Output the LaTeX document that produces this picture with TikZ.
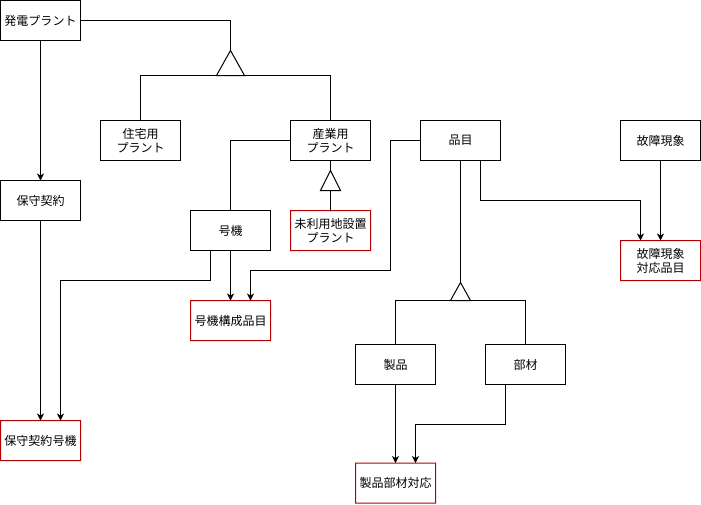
\documentclass[tikz,border=0pt]{standalone}
\usepackage{fontspec}
\setmainfont{Noto Sans CJK JP}
\usetikzlibrary{arrows.meta}
\definecolor{redline}{HTML}{B20000}
\tikzset{
  box/.style={draw=black, line width=1pt, outer sep=0pt, minimum width=80pt, minimum height=40pt, inner sep=0pt, anchor=north west, align=center, font=\fontsize{12}{14}\selectfont},
  redbox/.style={box, draw=none},
  redframe/.style={fill=redline, even odd rule},
  conn/.style={draw=black, line width=1pt},
  arr/.style={conn, -{Stealth[length=7pt,width=7pt,inset=2pt]}},
  gen/.style={draw=black, line width=1pt, fill=white}
}
\newcommand{\redframeof}[1]{%
  \fill[redframe] ([shift={(-0.5,-0.5)}]#1.north west) rectangle ([shift={(0.5,0.5)}]#1.south east)
                  ([shift={(0.5,0.5)}]#1.north west) rectangle ([shift={(-0.5,-0.5)}]#1.south east);}
\begin{document}
\begin{tikzpicture}[x=1pt,y=-1pt]
\useasboundingbox (0,0) rectangle (701,504);
\node[box] (hatsuden) at (0.5,0.5) {発電プラント};
\node[box] (jutaku) at (100.5,120.5) {住宅用\\プラント};
\node[box] (sangyo) at (290.5,120.5) {産業用\\プラント};
\node[redbox] (miriyo) at (290.5,210.5) {未利用地設置\\プラント};
\node[box] (goki) at (190.5,210.5) {号機};
\node[box] (hinmoku) at (420.5,120.5) {品目};
\node[box] (kosho) at (620.5,120.5) {故障現象};
\node[redbox] (koshohin) at (620.5,240.5) {故障現象\\対応品目};
\node[box] (hoshu) at (0.5,180.5) {保守契約};
\node[redbox] (gokikosei) at (190.5,300.5) {号機構成品目};
\node[redbox] (hoshugoki) at (0.5,420.5) {保守契約号機};
\node[box] (seihin) at (355.5,344.5) {製品};
\node[box] (buzai) at (485.5,344.5) {部材};
\node[redbox] (seibu) at (355.5,463) {製品部材対応};

% red frames
\redframeof{miriyo}
\redframeof{koshohin}
\redframeof{gokikosei}
\redframeof{hoshugoki}
\redframeof{seibu}

% generalization 1
\coordinate (t1) at (230.5,50.5);
\coordinate (t1b) at (230.5,75.5);
\draw[conn] (hatsuden.east) -| (t1);
\draw[conn] (jutaku.north) |- (t1b) -| (sangyo.north);
\draw[gen] (t1) -- ++(-14,25) -- ++(28,0) -- cycle;

% generalization 2
\coordinate (t2) at (330.5,170.5);
\coordinate (t2b) at (330.5,190.5);
\draw[conn] (sangyo.south) -- (t2);
\draw[conn] (t2b) -- (miriyo.north);
\draw[gen] (t2) -- ++(-10,20) -- ++(20,0) -- cycle;

% generalization 3
\coordinate (t3) at (460.5,282.5);
\coordinate (t3b) at (460.5,300.5);
\draw[conn] (hinmoku.south) -- (t3);
\draw[conn] (seihin.north) |- (t3b) -| (buzai.north);
\draw[gen] (t3) -- ++(-10,18) -- ++(20,0) -- cycle;

% sangyo -> goki
\draw[conn] (sangyo.west) -| (goki.north);

% arrows
\draw[arr] (hatsuden.south) -- (hoshu.north);
\draw[arr] (hoshu.south) -- (hoshugoki.north);
\draw[arr] ([xshift=-20pt]goki.south) |- ++(0,30) -| ([xshift=20pt]hoshugoki.north);
\draw[arr] (goki.south) -- (gokikosei.north);
\draw[arr] (hinmoku.west) -| ++(-30,130) -| ([xshift=20pt]gokikosei.north);
\draw[arr] ([xshift=20pt]hinmoku.south) |- ++(0,40) -| ([xshift=-20pt]koshohin.north);
\draw[arr] (kosho.south) -- (koshohin.north);
\draw[arr] (seihin.south) -- (seibu.north);
\draw[arr] ([xshift=-20pt]buzai.south) |- ++(0,39.5) -| ([xshift=20pt]seibu.north);
\end{tikzpicture}
\end{document}
